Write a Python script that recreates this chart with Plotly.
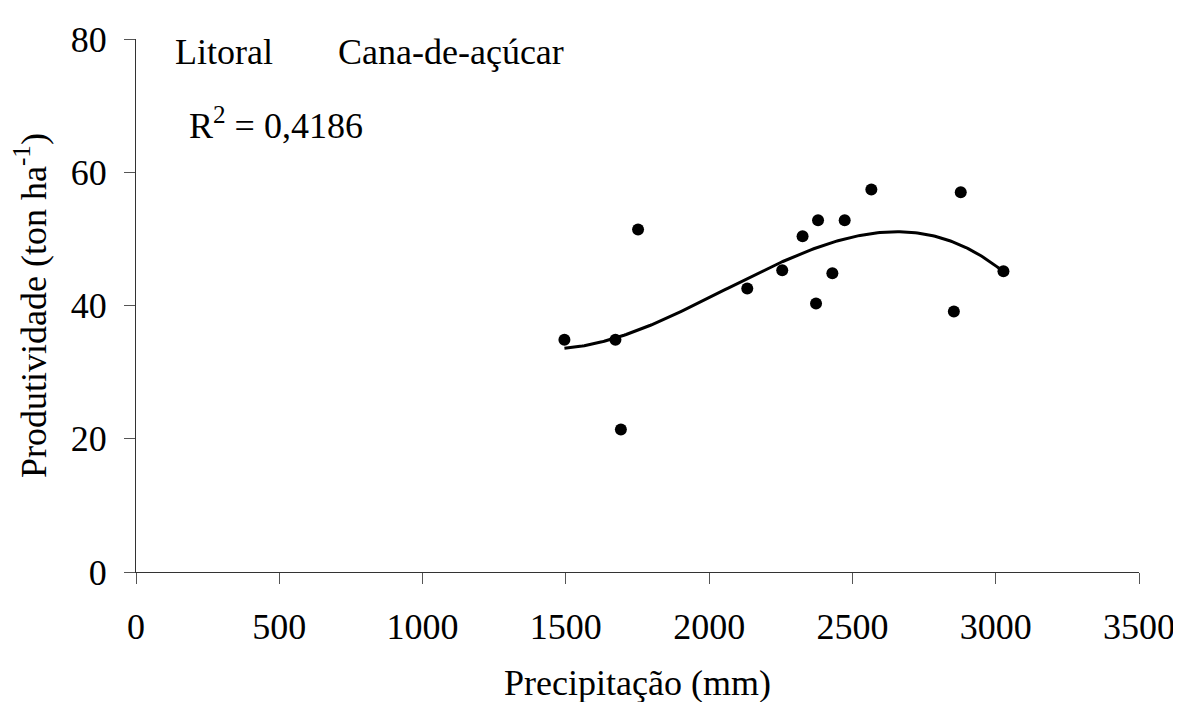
import numpy as np
import plotly.graph_objects as go

# Data
precip_mm = [1495, 1673, 1692, 1752, 2133, 2255, 2326, 2373, 2380, 2430, 2473, 2566, 2854, 2878, 3027]
produtividade = [34.85, 34.85, 21.4, 51.4, 42.55, 45.3, 50.4, 40.3, 52.8, 44.85, 52.8, 57.4, 39.1, 57.0, 45.15]
x_ticks = [0, 500, 1000, 1500, 2000, 2500, 3000, 3500]
y_ticks = [0, 20, 40, 60, 80]

# Cubic trendline fitted to the data (as in the original chart)
coef = np.polyfit(precip_mm, produtividade, 3)
xs = np.linspace(min(precip_mm), max(precip_mm), 200)
ys = np.polyval(coef, xs)

FONT = "Liberation Serif"

fig = go.Figure()
fig.add_trace(go.Scatter(x=xs, y=ys, mode="lines",
                         line=dict(color="black", width=3), hoverinfo="skip"))
fig.add_trace(go.Scatter(x=precip_mm, y=produtividade, mode="markers",
                         marker=dict(color="black", size=12)))

fig.update_layout(
    width=1181, height=702,
    margin=dict(l=128, r=50, t=20, b=138),
    paper_bgcolor="white", plot_bgcolor="white",
    showlegend=False,
    font=dict(family=FONT, size=36, color="black"),
    xaxis=dict(range=[0, 3500], tickvals=x_ticks, ticks="outside", ticklen=11,
               ticklabelstandoff=12,
               tickcolor="#555", showline=True, linecolor="#333", linewidth=1.2,
               showgrid=False, zeroline=False,
               title=dict(text="Precipitação (mm)", standoff=23,
                          font=dict(family=FONT, size=36))),
    yaxis=dict(range=[0, 80], tickvals=y_ticks, ticks="outside", ticklen=11,
               ticklabelstandoff=10,
               tickcolor="#555", showline=True, linecolor="#333", linewidth=1.2,
               showgrid=False, zeroline=False,
               title=dict(text="Produtividade (ton ha<sup>-1</sup>)", standoff=13,
                          font=dict(family=FONT, size=36))),
)

fig.add_annotation(x=0.0369, y=0.975, xref="paper", yref="paper", xanchor="left", yanchor="middle",
                   text="Litoral", showarrow=False, font=dict(family=FONT, size=36))
fig.add_annotation(x=0.1994, y=0.975, xref="paper", yref="paper", xanchor="left", yanchor="middle",
                   text="Cana-de-açúcar", showarrow=False, font=dict(family=FONT, size=36))
fig.add_annotation(x=0.0508, y=0.841, xref="paper", yref="paper", xanchor="left", yanchor="middle",
                   text="R<sup>2</sup> = 0,4186", showarrow=False, font=dict(family=FONT, size=36))

fig.write_html("out.html")
